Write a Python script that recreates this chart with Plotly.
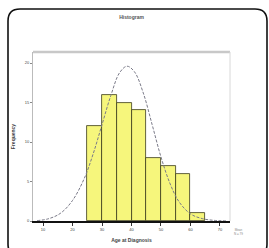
import plotly.graph_objects as go

# Histogram bins (Age at Diagnosis) and frequencies
bin_starts = [25, 30, 35, 40, 45, 50, 55, 60]
bin_width = 5
frequencies = [12, 16, 15, 14, 8, 7, 6, 1]

# Normal curve overlay
curve_age = [8, 12, 16, 20, 24, 27, 30, 33, 36, 38.5, 41, 44, 47, 50, 53, 56, 60, 64, 68, 72]
curve_freq = [0.05, 0.3, 1.0, 2.6, 5.4, 8.5, 12.2, 15.9, 18.8, 19.6, 18.9, 16.2, 12.2, 8.1, 4.8, 2.5, 0.9, 0.3, 0.08, 0.02]

x_ticks = [10, 20, 30, 40, 50, 60, 70]
y_ticks = [0, 5, 10, 15, 20]

mids = [s + bin_width / 2 for s in bin_starts]

fig = go.Figure()
fig.add_trace(go.Bar(
    x=mids, y=frequencies, width=[bin_width] * len(mids),
    marker=dict(color="#f6f67c", line=dict(color="#3a3a1a", width=0.8)),
    hoverinfo="skip",
))
fig.add_trace(go.Scatter(
    x=curve_age, y=curve_freq, mode="lines",
    line=dict(color="#7a7a88", width=1, dash="3px,1.5px", shape="spline"),
    hoverinfo="skip",
))

W, H = 269, 248
L, R, T, B = 33, 39, 52, 27
pw, ph = W - L - R, H - T - B

def px(x):
    return (x - L) / pw

def py(y):
    return (H - B - y) / ph

# rounded card border
x0, x1, y0, y1, r = 8, 267, 9, 256, 12
path = (
    f"M {px(x0 + r)} {py(y0)} L {px(x1 - r)} {py(y0)} "
    f"Q {px(x1)} {py(y0)} {px(x1)} {py(y0 + r)} "
    f"L {px(x1)} {py(y1 - r)} Q {px(x1)} {py(y1)} {px(x1 - r)} {py(y1)} "
    f"L {px(x0 + r)} {py(y1)} Q {px(x0)} {py(y1)} {px(x0)} {py(y1 - r)} "
    f"L {px(x0)} {py(y0 + r)} Q {px(x0)} {py(y0)} {px(x0 + r)} {py(y0)} Z"
)

shapes = [
    dict(type="path", xref="paper", yref="paper", path=path,
         line=dict(color="#111111", width=1.6), layer="below"),
    dict(type="line", xref="paper", yref="paper", x0=0, x1=1, y0=1, y1=1,
         line=dict(color="#c8c8c8", width=2.5)),
    dict(type="line", xref="paper", yref="paper", x0=1, x1=1, y0=0, y1=1,
         line=dict(color="#d8d8d8", width=1)),
]

fig.update_layout(
    width=W, height=H,
    margin=dict(l=L, r=R, t=T, b=B, autoexpand=False),
    paper_bgcolor="white", plot_bgcolor="white",
    showlegend=False, bargap=0,
    shapes=shapes,
    font=dict(family="Liberation Sans, Arial", color="#444444"),
    title=dict(text="<b>Histogram</b>", x=0.5, xanchor="center",
               xref="paper", y=1 - 17 / H, yanchor="middle",
               font=dict(size=5, color="#555555"), automargin=False),
)
fig.update_xaxes(
    range=[6.6, 73.4], tickvals=x_ticks, ticks="outside", ticklen=3,
    tickcolor="#333", tickfont=dict(size=4), showgrid=False, zeroline=False,
    showline=True, linecolor="#111111", linewidth=1.5, automargin=False,
    title=dict(text="<b>Age at Diagnosis</b>", font=dict(size=5), standoff=8),
)
fig.update_yaxes(
    range=[0, 21.4], tickvals=y_ticks, ticks="outside", ticklen=2,
    tickcolor="#888", tickfont=dict(size=4), showgrid=False, zeroline=False,
    showline=True, linecolor="#bbbbbb", linewidth=1, automargin=False,
    title=dict(text="<b>Frequency</b>", font=dict(size=5), standoff=8),
)
fig.add_annotation(
    xref="paper", yref="paper", x=px(245), y=py(238),
    text="Mean<br>N = 79", showarrow=False, font=dict(size=3, color="#888888"),
)

fig.write_html("out.html", config={"displayModeBar": False},
               post_script="document.body.style.margin='0';")
